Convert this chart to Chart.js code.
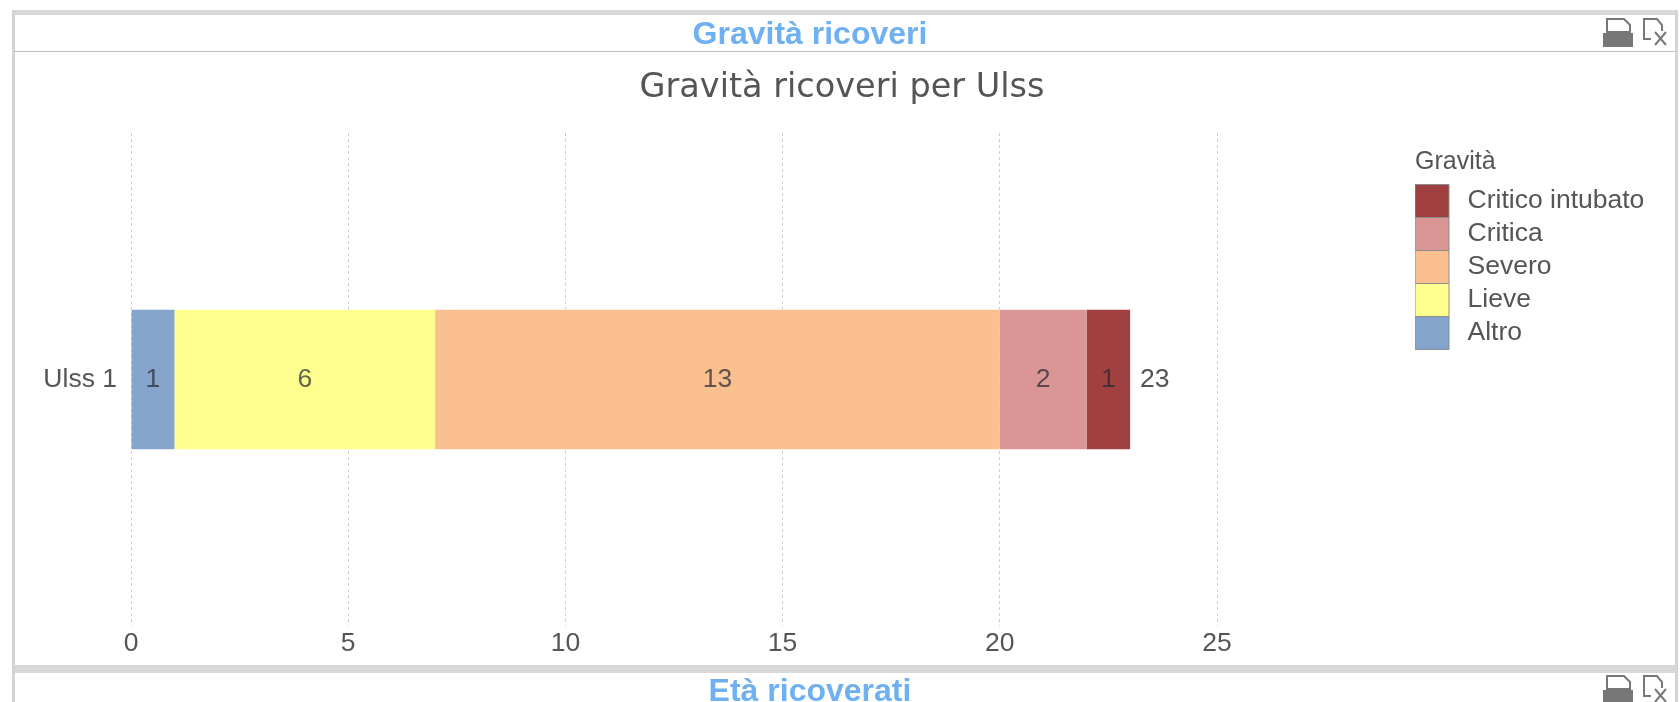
<!DOCTYPE html>
<html lang="it">
<head>
<meta charset="utf-8">
<title>Gravità ricoveri</title>
<script src="https://cdn.jsdelivr.net/npm/chart.js@4"></script>
<style>
  html, body { margin: 0; padding: 0; background: #fff; }
  body { width: 1680px; height: 702px; overflow: hidden; position: relative; font-family: "Liberation Sans", sans-serif; }
  #page { position: absolute; inset: 0; filter: blur(.6px); }
  .band { position: absolute; left: 12px; width: 1665px; background: #d8d8d8; }
  .side { position: absolute; width: 3px; background: #d4d4d4; }
  .rule { position: absolute; left: 14px; width: 1661px; top: 51px; height: 1px; background: #bdbdbd; }
  .head { position: absolute; left: 410px; width: 800px; text-align: center; color: #6fb0f2; font-weight: bold; font-size: 32px; line-height: 36px; }
  .icons { position: absolute; left: 1600px; }
  canvas { position: absolute; left: 14px; top: 52px; }
</style>
</head>
<body>
<div id="page">
  <div class="band" style="top:10px;height:5px"></div>
  <div class="band" style="top:665px;height:8px"></div>
  <div class="side" style="left:12px;top:10px;height:692px"></div>
  <div class="side" style="left:1675px;top:10px;height:692px"></div>
  <div class="rule"></div>
  <div class="head" style="top:15px">Gravità ricoveri</div>
  <div class="head" style="top:672px">Età ricoverati</div>
  <svg class="icons" style="top:17px" width="76" height="32" viewBox="0 0 76 32">
    <path d="M7 2h17l6 6v7H7z" fill="#fff" stroke="#777" stroke-width="2"/>
    <path d="M3 16h30v14H3z" fill="#777"/>
    <path d="M44 14V2h13l5 6v6" fill="none" stroke="#777" stroke-width="2"/>
    <path d="M44 14v8h7M55 15l11 13M66 15l-11 13" fill="none" stroke="#777" stroke-width="2"/>
  </svg>
  <svg class="icons" style="top:674px" width="76" height="28" viewBox="0 0 76 28">
    <path d="M7 2h17l6 6v7H7z" fill="#fff" stroke="#777" stroke-width="2"/>
    <path d="M3 16h30v14H3z" fill="#777"/>
    <path d="M44 14V2h13l5 6v6" fill="none" stroke="#777" stroke-width="2"/>
    <path d="M44 14v8h7M55 15l11 13M66 15l-11 13" fill="none" stroke="#777" stroke-width="2"/>
  </svg>
  <canvas id="chart" width="1656" height="613"></canvas>
</div>
<script>
const categories = ['Ulss 1']
const altro = [1]
const lieve = [6]
const severo = [13]
const critica = [2]
const criticoIntubato = [1]
const xTicks = [0, 5, 10, 15, 20, 25]

const textColor = '#555'
const fontFamily = '"Liberation Sans", sans-serif'
const fontSize = 26.5

// values inside the segments and the total at the end of the stack
const barLabels = {
  id: 'barLabels',
  afterDatasetsDraw(chart) {
    const ctx = chart.ctx
    ctx.save()
    ctx.font = fontSize + 'px ' + fontFamily
    ctx.textBaseline = 'middle'
    categories.forEach((cat, i) => {
      let total = 0
      let end = 0
      chart.data.datasets.forEach((ds, d) => {
        const bar = chart.getDatasetMeta(d).data[i]
        total += ds.data[i]
        end = bar.x
        ctx.textAlign = 'center'
        ctx.fillStyle = 'rgba(40,40,50,0.72)'
        ctx.fillText(ds.data[i], bar.x - bar.width / 2, bar.y)
      })
      ctx.textAlign = 'left'
      ctx.fillStyle = textColor
      ctx.fillText(total, end + 10, chart.getDatasetMeta(0).data[i].y)
    })
    ctx.restore()
  }
}

// title is centred on the whole panel, legend sits to the right of the plot
const placeBoxes = {
  id: 'placeBoxes',
  afterLayout(chart) {
    const title = chart.titleBlock
    title.left = 0
    title.right = chart.width
    const legend = chart.legend
    legend.left = 1401
    legend.right = 1655
    legend.top = 97.5
    legend.bottom = 322
  }
}

new Chart(document.getElementById('chart'), {
  type: 'bar',
  plugins: [barLabels, placeBoxes],
  data: {
    labels: categories,
    datasets: [
      { label: 'Altro', data: altro, backgroundColor: '#85a5cc' },
      { label: 'Lieve', data: lieve, backgroundColor: '#ffff8f' },
      { label: 'Severo', data: severo, backgroundColor: '#fac090' },
      { label: 'Critica', data: critica, backgroundColor: '#d99694' },
      { label: 'Critico intubato', data: criticoIntubato, backgroundColor: '#a04040' }
    ]
  },
  options: {
    indexAxis: 'y',
    responsive: false,
    animation: false,
    layout: { padding: { right: 453 } },
    datasets: { bar: { barPercentage: 0.283, categoryPercentage: 1 } },
    plugins: {
      tooltip: { enabled: false },
      title: {
        display: true,
        text: 'Gravità ricoveri per Ulss',
        color: textColor,
        font: { family: '"DejaVu Sans", sans-serif', size: 33.5, weight: 'normal', lineHeight: 1.2 },
        padding: { top: 16, bottom: 24.8 }
      },
      legend: {
        position: 'chartArea',
        align: 'start',
        reverse: true,
        title: {
          display: true,
          text: 'Gravità',
          position: 'start',
          color: textColor,
          font: { family: fontFamily, size: 25 },
          padding: { top: 0, bottom: 5 }
        },
        labels: {
          boxWidth: 34,
          boxHeight: 33,
          padding: 0,
          color: textColor,
          font: { family: fontFamily, size: fontSize },
          generateLabels(chart) {
            return chart.data.datasets.map((ds, i) => ({
              text: '\u2009' + ds.label,
              fillStyle: ds.backgroundColor,
              strokeStyle: '#8c8c8c',
              lineWidth: 1,
              datasetIndex: i,
              fontColor: textColor
            }))
          }
        }
      }
    },
    scales: {
      x: {
        stacked: true,
        min: xTicks[0],
        max: xTicks[xTicks.length - 1],
        afterBuildTicks(axis) { axis.ticks = xTicks.map(value => ({ value })) },
        afterFit(axis) { axis.height = 39 },
        grid: { color: '#cfcfcf', drawTicks: false },
        border: { display: false, dash: [3, 3] },
        ticks: { color: textColor, font: { family: fontFamily, size: fontSize }, padding: 2, maxRotation: 0 }
      },
      y: {
        stacked: true,
        afterFit(axis) { axis.width = 117 },
        grid: { display: false, drawTicks: false },
        border: { display: false },
        ticks: { color: textColor, font: { family: fontFamily, size: fontSize }, padding: 14 }
      }
    }
  }
})
</script>
</body>
</html>
